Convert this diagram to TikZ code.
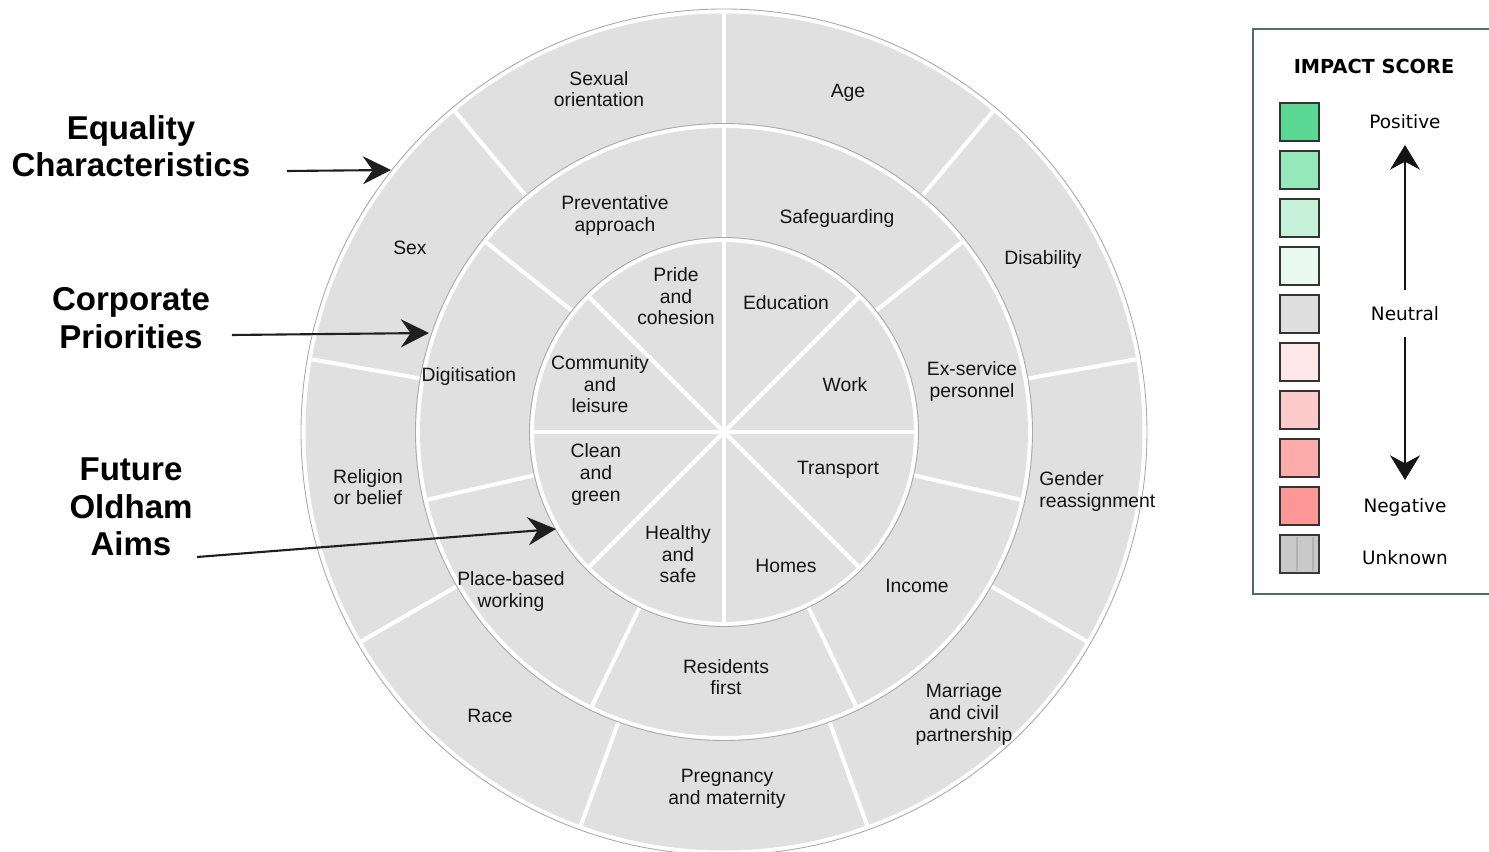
\documentclass[tikz,border=0pt]{standalone}
\usepackage{fontspec}
\setmainfont{Liberation Sans}
\newfontfamily\legendfont{DejaVu Sans}
\usetikzlibrary{arrows.meta}

\definecolor{wheelgray}{HTML}{E0E0E0}
\definecolor{rimgray}{HTML}{A9A9A9}
\definecolor{framecol}{HTML}{4F6D6B}
\definecolor{posA}{HTML}{5BD994}
\definecolor{posB}{HTML}{94E8B9}
\definecolor{posC}{HTML}{C6F2DA}
\definecolor{posD}{HTML}{EAF9F0}
\definecolor{neutralgray}{HTML}{DFDFDF}
\definecolor{negD}{HTML}{FDE7E8}
\definecolor{negC}{HTML}{FDCBCB}
\definecolor{negB}{HTML}{FDABAB}
\definecolor{negA}{HTML}{FE9797}
\definecolor{unknowngray}{HTML}{C9C9C9}

\tikzset{
  seg/.style={white,line width=2.3pt},
  rim/.style={rimgray,line width=0.5pt},
  lbl/.style={align=center,inner sep=0pt,yshift=-1.2pt,text=black!92,font=\fontsize{11}{12.5}\selectfont},
  headline/.style={align=center,inner sep=0pt,font=\bfseries\fontsize{18.8}{21.3}\selectfont},
  pointer/.style={-{Stealth[length=16pt,width=16pt,inset=5.5pt]},line width=1.2pt,black!88},
  scalearrow/.style={-{Stealth[length=14pt,width=17pt,inset=4.5pt]},line width=1.4pt,black!92},
  swatch/.style={draw=black!80,line width=1pt,minimum width=0.78cm,minimum height=0.76cm,inner sep=0pt},
  keytext/.style={inner sep=0pt,font=\legendfont\fontsize{10.5}{12}\selectfont}
}

\begin{document}
\begin{tikzpicture}[x=0.02cm,y=0.02cm]
 \useasboundingbox (-724,-420) rectangle (765,432);

 % Wheel: three rings
 \fill[wheelgray] (0,0) circle (418.5);
 \draw[rim] (0,0) circle (423);
 \foreach \a in {0,45,...,315}
   \draw[seg] (0,0) -- (\a:194);
 \foreach \i in {0,...,6}
   \draw[seg] ({90-\i*360/7}:192) -- ({90-\i*360/7}:307);
 \foreach \i in {0,...,8}
   \draw[seg] ({90-\i*40}:305) -- ({90-\i*40}:420);
 \draw[seg] (0,0) circle (192);
 \draw[rim] (0,0) circle (194.5);
 \draw[seg] (0,0) circle (306);
 \draw[rim] (0,0) circle (308.5);

 % Equality characteristics (outer ring)
 \node[lbl] (sexor) at (-125,345) {Sexual\\orientation};
 \node[lbl] (age) at (124,341) {Age};
 \node[lbl] (disab) at (319,175) {Disability};
 \node[lbl,align=left,anchor=west] (gender) at (315,-57) {Gender\\reassignment};
 \node[lbl] (marriage) at (240,-280) {Marriage\\and civil\\partnership};
 \node[lbl] (pregn) at (3,-355) {Pregnancy\\and maternity};
 \node[lbl] (race) at (-234,-282) {Race};
 \node[lbl] (relig) at (-356,-53) {Religion\\or belief};
 \node[lbl] (sex) at (-314,186) {Sex};

 % Corporate priorities (middle ring)
 \node[lbl] (prevent) at (-109,219) {Preventative\\approach};
 \node[lbl] (safeg) at (113,216) {Safeguarding};
 \node[lbl] (exserv) at (248,53) {Ex-service\\personnel};
 \node[lbl] (income) at (193,-152) {Income};
 \node[lbl] (resid) at (2,-243) {Residents\\first};
 \node[lbl] (place) at (-213,-157) {Place-based\\working};
 \node[lbl] (digit) at (-255,58) {Digitisation};

 % Future Oldham aims (inner ring)
 \node[lbl] (pride) at (-48,138) {Pride\\and\\cohesion};
 \node[lbl] (educ) at (62,132) {Education};
 \node[lbl] (work) at (121,50) {Work};
 \node[lbl] (transp) at (114,-36) {Transport};
 \node[lbl] (homes) at (62,-132) {Homes};
 \node[lbl] (healthy) at (-46,-120) {Healthy\\and\\safe};
 \node[lbl] (clean) at (-128,-40) {Clean\\and\\green};
 \node[lbl] (commun) at (-124,50) {Community\\and\\leisure};

 % Ring captions and pointers
 \node[headline] (eqchar) at (-593,286) {Equality\\Characteristics};
 \node[headline] (corpprio) at (-593,114) {Corporate\\Priorities};
 \node[headline] (foaims) at (-593,-75) {Future\\Oldham\\Aims};
 \coordinate (eqfrom) at (-437,261);  \coordinate (eqto) at (-333,262);
 \coordinate (cpfrom) at (-492,97);   \coordinate (cpto) at (-295,99);
 \coordinate (fofrom) at (-527,-125); \coordinate (foto) at (-168,-97);
 \draw[pointer] (eqfrom) -- (eqto);
 \draw[pointer] (cpfrom) -- (cpto);
 \draw[pointer] (fofrom) -- (foto);

 % Legend
 \draw[framecol,line width=1.2pt] (529,403) rectangle (800,-162);
 \node[inner sep=0pt,font=\legendfont\bfseries\fontsize{11}{13}\selectfont] (keytitle) at (650,366) {IMPACT SCORE};
 \foreach \c [count=\i from 0] in {posA,posB,posC,posD,neutralgray,negD,negC,negB,negA}
   \node[swatch,fill=\c] (sw\i) at (575.5,{310-48*\i}) {};
 \node[swatch,fill=unknowngray,line width=1.6pt,draw=black!78] (sw9) at (575.5,-122) {};
 \foreach \sx in {573,589}
   \draw[black!30,line width=1pt] (\sx,-139) -- (\sx,-105);
 \node[keytext] (positive) at (681,310) {Positive};
 \node[keytext] (neutral) at (681,118) {Neutral};
 \node[keytext] (negative) at (681,-75) {Negative};
 \node[keytext] (unknown) at (681,-126) {Unknown};
 \coordinate (uptip) at (681,287);   \coordinate (upfoot) at (681,142);
 \coordinate (downtip) at (681,-48); \coordinate (downfoot) at (681,95);
 \draw[scalearrow] (upfoot) -- (uptip);
 \draw[scalearrow] (downfoot) -- (downtip);
\end{tikzpicture}
\end{document}
